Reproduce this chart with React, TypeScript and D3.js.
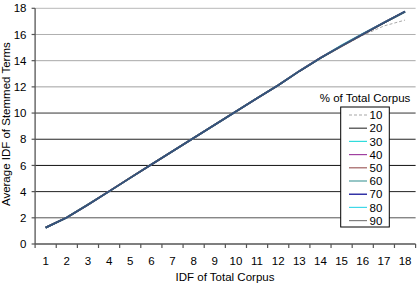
import React from "react";
import * as d3 from "d3";

const categories = [1, 2, 3, 4, 5, 6, 7, 8, 9, 10, 11, 12, 13, 14, 15, 16, 17, 18];
const yTicks = [0, 2, 4, 6, 8, 10, 12, 14, 16, 18];

const s10 = [1.25, 2.02, 3.0, 4.02, 5.05, 6.07, 7.08, 8.09, 9.1, 10.12, 11.13, 12.12, 13.18, 14.17, 15.08, 15.93, 16.65, 17.1];
const s20 = [1.25, 2.03, 3.0, 4.02, 5.05, 6.07, 7.08, 8.09, 9.1, 10.12, 11.13, 12.12, 13.2, 14.2, 15.13, 16.02, 16.9, 17.75];
const s30 = [1.24, 2.02, 3.01, 4.02, 5.05, 6.06, 7.08, 8.1, 9.1, 10.12, 11.14, 12.13, 13.2, 14.21, 15.17, 16.05, 16.89, 17.72];
const s40 = [1.25, 2.02, 3.0, 4.03, 5.05, 6.07, 7.09, 8.09, 9.11, 10.12, 11.13, 12.12, 13.21, 14.22, 15.15, 16.03, 16.91, 17.76];
const s50 = [1.26, 2.03, 3.01, 4.02, 5.06, 6.07, 7.08, 8.1, 9.1, 10.13, 11.14, 12.13, 13.2, 14.21, 15.11, 16.0, 16.89, 17.74];
const s60 = [1.25, 2.02, 3.0, 4.02, 5.05, 6.08, 7.08, 8.09, 9.1, 10.12, 11.13, 12.12, 13.21, 14.21, 15.14, 16.03, 16.91, 17.76];
const s70 = [1.25, 2.02, 3.0, 4.02, 5.05, 6.07, 7.08, 8.09, 9.1, 10.12, 11.13, 12.12, 13.2, 14.2, 15.13, 16.02, 16.9, 17.75];
const s80 = [1.25, 2.02, 3.01, 4.02, 5.05, 6.07, 7.08, 8.1, 9.1, 10.12, 11.14, 12.12, 13.2, 14.21, 15.14, 16.03, 16.9, 17.75];
const s90 = [1.25, 2.02, 3.0, 4.02, 5.05, 6.07, 7.08, 8.09, 9.1, 10.12, 11.13, 12.12, 13.2, 14.2, 15.12, 16.02, 16.9, 17.74];

const seriesNames = ["10", "20", "30", "40", "50", "60", "70", "80", "90"];
const seriesValues = [s10, s20, s30, s40, s50, s60, s70, s80, s90];
const seriesColors = ["#a8a8a8", "#404040", "#30dcdc", "#a040a0", "#a06060", "#50a0a0", "#000090", "#40d8e8", "#808080"];
// draw order (index into series) and overlap opacity
const drawOrder = [0, 2, 7, 3, 4, 8, 1, 5, 6];
const drawOpacity: Record<number, number> = { 1: 1, 5: 0.57, 6: 0.3 };

const gridColor: Record<number, string> = {
  18: "#b8b8b8",
  16: "#b0b0b0",
  14: "#a8a8a8",
  12: "#a0a0a0",
  10: "#333",
  8: "#222",
  6: "#111",
  4: "#222",
  2: "#555",
};

const W = 417;
const H = 284;
const plotLeft = 35.1;
const plotRight = 415.6;
const plotTop = 8.3;
const plotBottom = 244;
const font = "'Liberation Sans', Arial, sans-serif";
const fs = 11.5;

export default function App() {
  const x = d3.scaleBand<number>().domain(categories).range([plotLeft, plotRight]).paddingInner(0).paddingOuter(0);
  const y = d3.scaleLinear().domain([0, 18]).range([plotBottom, plotTop]);
  const cx = (c: number) => (x(c) as number) + x.bandwidth() / 2;
  const line = d3
    .line<number>()
    .x((_, i) => cx(categories[i]))
    .y((v) => y(v));

  const boundaries = d3.range(categories.length + 1).map((i) => plotLeft + i * x.bandwidth());

  const legendX = 340.7;
  const legendY = 107;
  const legendW = 48.6;
  const legendH = 120;
  const legendStep = 13.2;

  return (
    <svg width={W} height={H} style={{ position: "absolute", left: 0, top: 0, background: "#fff" }} fontFamily={font}>
      <rect x={0} y={0} width={W} height={H} fill="#fff" />
      {yTicks
        .filter((t) => t > 0)
        .map((t) => (
          <line key={t} x1={plotLeft} x2={plotRight} y1={y(t)} y2={y(t)} stroke={gridColor[t]} strokeWidth={1} />
        ))}
      {/* axes */}
      <line x1={plotLeft} x2={plotLeft} y1={plotTop} y2={plotBottom} stroke="#555" strokeWidth={1.3} />
      <line x1={plotLeft} x2={plotRight} y1={plotBottom} y2={plotBottom} stroke="#555" strokeWidth={1.3} />
      {yTicks.map((t) => (
        <g key={"yt" + t}>
          <line x1={plotLeft - 3.5} x2={plotLeft} y1={y(t)} y2={y(t)} stroke="#555" strokeWidth={1.2} />
          <text x={26.5} y={y(t)} dy="0.36em" textAnchor="end" fontSize={fs} fill="#000">
            {t}
          </text>
        </g>
      ))}
      {boundaries.map((b, i) => (
        <line key={"xt" + i} x1={b} x2={b} y1={plotBottom} y2={plotBottom + 4} stroke="#555" strokeWidth={1.2} />
      ))}
      {categories.map((c) => (
        <text key={"xl" + c} x={cx(c)} y={264.8} textAnchor="middle" fontSize={fs} fill="#000">
          {c}
        </text>
      ))}
      <text x={225} y={280.8} textAnchor="middle" fontSize={fs} fill="#000">
        IDF of Total Corpus
      </text>
      <text
        transform={`translate(9.5, ${(plotTop + plotBottom) / 2 - 2}) rotate(-90)`}
        textAnchor="middle"
        fontSize={fs}
        fill="#000"
      >
        Average IDF of Stemmed Terms
      </text>
      {/* series */}
      {drawOrder.map((si) => (
        <path
          key={"s" + si}
          d={line(seriesValues[si]) || ""}
          fill="none"
          stroke={seriesColors[si]}
          strokeWidth={si === 0 ? 1 : 1.7}
          strokeDasharray={si === 0 ? "3,2" : undefined}
          strokeOpacity={drawOpacity[si] ?? 1}
        />
      ))}
      {/* legend */}
      <text x={365} y={101.5} textAnchor="middle" fontSize={fs} fill="#000">
        % of Total Corpus
      </text>
      <rect x={legendX} y={legendY} width={legendW} height={legendH} fill="#fff" stroke="#000" strokeWidth={1} />
      {seriesNames.map((n, i) => {
        const ly = legendY + 8 + i * legendStep;
        return (
          <g key={"lg" + n}>
            <line
              x1={349}
              x2={367}
              y1={ly}
              y2={ly}
              stroke={seriesColors[i]}
              strokeWidth={1.2}
              strokeDasharray={i === 0 ? "3,2" : undefined}
            />
            <text x={369.5} y={ly} dy="0.36em" fontSize={fs} fill="#000">
              {n}
            </text>
          </g>
        );
      })}
    </svg>
  );
}
